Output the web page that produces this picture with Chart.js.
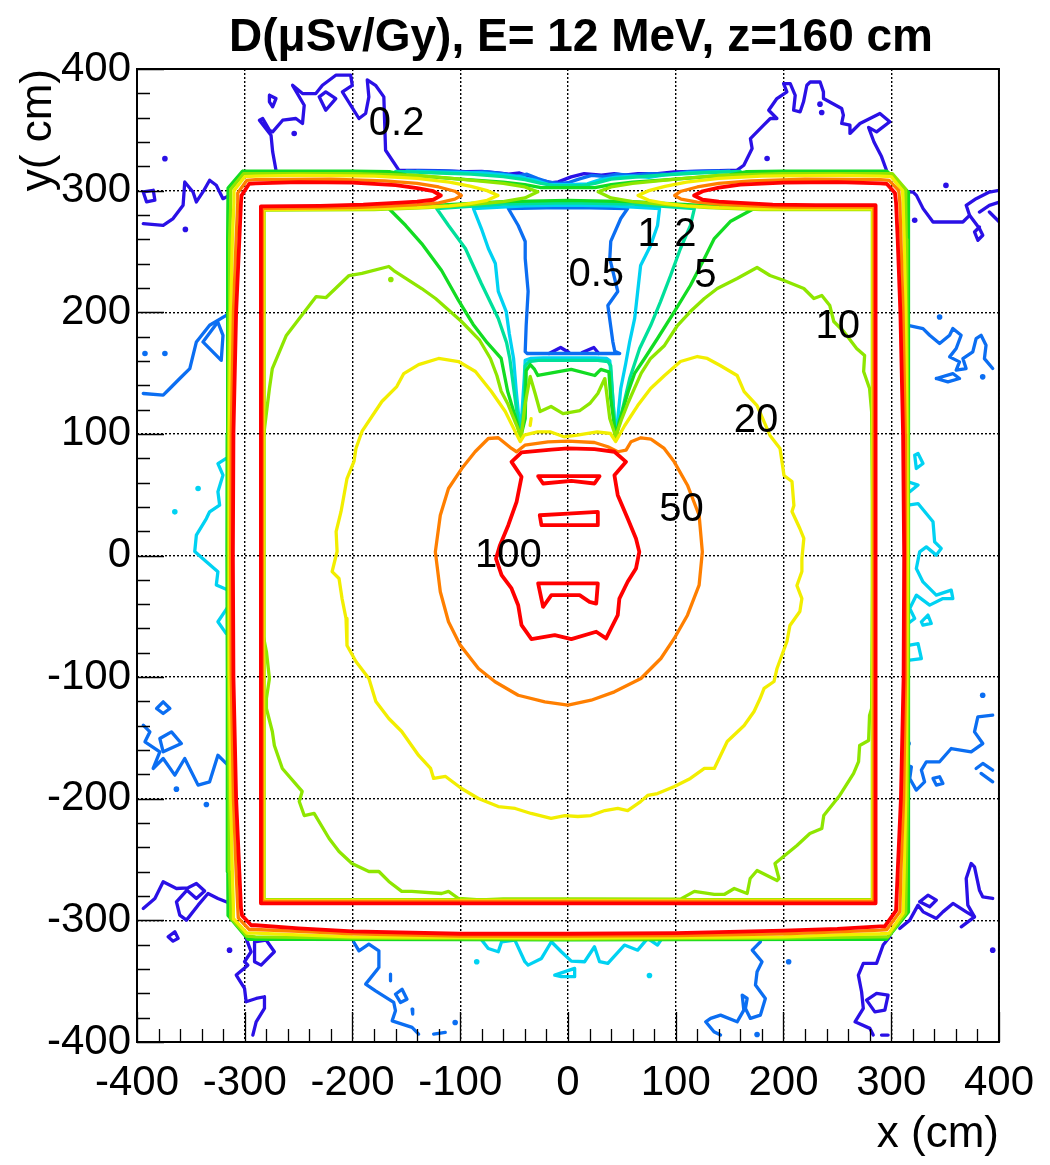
<!DOCTYPE html>
<html>
<head>
<meta charset="utf-8">
<title>D(μSv/Gy), E= 12 MeV, z=160 cm</title>
<script src="https://cdn.jsdelivr.net/npm/chart.js@4.4.1/dist/chart.umd.min.js"></script>
<style>
  html, body { margin: 0; padding: 0; background: #ffffff; }
  canvas { display: block; }
</style>
</head>
<body>
<canvas id="map" width="1050" height="1165"></canvas>
<script>
const FONT = "'Liberation Sans', Arial, Helvetica, sans-serif";

// Axis ticks (cm)
const xTickValues = [-400, -300, -200, -100, 0, 100, 200, 300, 400];
const yTickValues = [-400, -300, -200, -100, 0, 100, 200, 300, 400];
const minorTickValues = [-380, -360, -340, -320, -280, -260, -240, -220, -180, -160, -140, -120,
  -80, -60, -40, -20, 20, 40, 60, 80, 120, 140, 160, 180, 220, 240, 260, 280, 320, 340, 360, 380];

// Contour levels (µSv/Gy) and their colours
const levels = ['0.2', '0.5', '1', '2', '5', '10', '20', '50', '100'];
const levelColors = ['#2a10e6', '#0b6ef2', '#00d2f2', '#00e09a', '#12dc22', '#8ee600', '#f2ee00', '#ff7f00', '#ff0000'];

// ---------- 100 µSv/Gy ----------
const lvl100_wall = [[-118,296],[-125,292.5],[-140,291],[-160,290],[-190,288.5],[-230,287.5],[-285,287],
  [-285,-286],[285.5,-286],[285.5,288],
  [230,288],[190,288.5],[160,290],[140,291],[125,292.5],[117,296],
  [125,299.5],[140,302.5],[160,305],[200,306.5],[250,307],[290,306],[296,305.5],
  [303.5,298],[304.5,290],[306,260],[308.5,200],[311,100],[312,0],[311.5,-100],[309,-200],[306,-260],[304.5,-292],
  [294,-305],[290,-305],[250,-307],[200,-308.5],[100,-310.5],[0,-311],[-100,-311],[-200,-309],[-250,-306.5],[-290,-304],[-294,-304],
  [-302.5,-296],[-303.5,-290],[-305,-260],[-308,-200],[-310.5,-100],[-311,0],[-310.5,100],[-308,200],[-305,260],[-303.5,290],[-303,296],
  [-296,305.5],[-290,306],[-250,307],[-200,306.5],[-160,304.5],[-140,302],[-125,299.5],[-118,296]];
const lvl100_core = [[-52.4,77.0],[-43.1,84.7],[-15.4,87.1],[0,88],[24.6,87.4],[43.1,85.3],[53.9,77.0],[43.1,66.0],
  [46.2,49.6],[55.4,30.4],[63.1,14.0],[66.2,3.0],[63.1,-10.7],[55.4,-21.6],[47.7,-35.4],[46.2,-49.1],[40,-60.0],
  [35.4,-68.2],[26.2,-62.7],[3.1,-68.8],[-12.3,-65.5],[-33.9,-68.8],[-43.1,-57.3],[-46.2,-40.9],[-52.4,-27.1],
  [-61.6,-16.2],[-66.8,-2.5],[-63.1,8.5],[-55.4,24.9],[-47.7,44.1],[-43.1,64.7],[-52.4,77.0]];
const lvl100_barTop = [[-27.7,65.2],[29.3,65.2],[24.6,59.2],[3.1,61.4],[-23.1,59.2],[-27.7,65.2]];
const lvl100_barMid = [[-26.2,33.1],[0,34.5],[27.7,35.9],[27.7,24.9],[-24.6,24.9],[-26.2,33.1]];
const lvl100_barLow = [[-27.7,-23.0],[27.7,-23.0],[26.2,-39.5],[20.0,-38.1],[10.8,-32.6],[-15.4,-32.6],[-23.1,-42.2],[-27.7,-23.0]];

// ---------- 50 µSv/Gy ----------
const lvl50_wall = [[-99,296],[-105,293],[-120,290],[-140,288.5],[-170,287],[-200,286],[-283.5,285.5],
  [-283.5,-284.5],[284,-284.5],[284,286.5],
  [200,286.5],[170,287.5],[140,289],[120,290.5],[105,293],[99,296],
  [105,299.5],[120,303],[140,306],[170,308],[220,309.5],[290,309],[298,308.5],
  [307,300],[308,290],[309,260],[311,200],[313,100],[313.5,0],[313,-100],[311.5,-200],[309,-260],[308,-293],
  [296,-307.5],[290,-308],[250,-309.5],[200,-311],[100,-312.5],[0,-313],[-100,-313],[-200,-311],[-250,-309],[-290,-307.5],[-296,-307.5],
  [-306,-298],[-306.5,-290],[-308,-260],[-310.5,-200],[-312.5,-100],[-313,0],[-312.5,100],[-310.5,200],[-308,260],[-306.5,290],[-306.5,298],
  [-298,308.5],[-290,309],[-220,309.5],[-170,308],[-140,306],[-120,303],[-105,299.5],[-99,296]];
const lvl50_core = [[-73.9,96.2],[-64.7,96.8],[-52.4,88.0],[-47.7,85.3],[-40.0,90.7],[-18.5,93.5],[0,94.0],[24.6,92.9],
  [37.0,89.4],[46.2,85.3],[53.9,86.6],[58.5,93.5],[67.7,96.8],[77.0,95.6],[89.3,88.0],[98.6,77.0],[110.9,57.8],
  [121.7,33.1],[124.7,3.0],[121.7,-24.4],[110.9,-49.1],[98.6,-68.2],[86.2,-84.7],[67.7,-101.1],[43.1,-112.1],
  [21.5,-119.0],[0,-123.1],[-21.5,-120.3],[-46.2,-114.9],[-67.7,-103.8],[-83.1,-92.9],[-100.0,-73.7],[-110.9,-54.5],
  [-118.5,-29.8],[-123.1,3.0],[-118.5,33.1],[-110.9,55.1],[-98.6,71.5],[-86.2,85.3],[-73.9,96.2]];

// ---------- 20 µSv/Gy ----------
const lvl20_wall = [[-65,296],[-75,292],[-90,289.5],[-110,287.5],[-140,286],[-180,285],[-282.5,284.5],
  [-282.5,-283.5],[283,-283.5],[283,285],
  [180,285],[140,286],[110,287.5],[90,289.5],[75,292],[65,296],
  [75,300],[90,303.5],[110,307],[140,310],[180,312],[250,312.5],[290,312],[300,311.5],
  [310.5,300],[311,290],[312,260],[313.5,200],[314.5,100],[315,0],[314.5,-100],[313.5,-200],[312,-260],[311,-294],
  [298,-310.5],[290,-311],[250,-312],[200,-313.5],[100,-314],[0,-314.5],[-100,-314],[-200,-313.5],[-250,-312],[-290,-310.5],[-298,-310.5],
  [-310,-299],[-310.5,-290],[-311.5,-260],[-313,-200],[-314,-100],[-314.5,0],[-314,100],[-313,200],[-311.5,260],[-310,290],[-310,300],
  [-300,311.5],[-290,312],[-250,312.5],[-180,312],[-140,310],[-110,307],[-90,303.5],[-75,300],[-65,296]];
const lvl20_core = [[-44.3,93.7],[-49.0,102.0],[-58.2,118.4],[-71.1,134.8],[-85.9,151.3],[-101.6,159.5],[-120.1,162.0],
  [-138.6,157.0],[-152.4,149.6],[-158.9,138.9],[-172.7,126.6],[-191.2,102.0],[-196.8,88.0],[-198.6,77.3],[-205.1,63.3],
  [-210.6,36.2],[-215.2,19.7],[-214.3,3.3],[-218.9,-13.2],[-212.5,-18.9],[-209.7,-35.4],[-206.0,-51.8],[-205.1,-74.0],
  [-196.8,-87.1],[-184.8,-101.1],[-178.3,-120.0],[-166.3,-134.0],[-154.3,-144.7],[-138.6,-164.4],[-127.5,-175.1],
  [-124.7,-183.3],[-113.6,-181.7],[-98.8,-191.6],[-83.1,-199.8],[-64.7,-206.4],[-49.0,-208.0],[-34.2,-212.1],
  [-15.7,-216.2],[-2.8,-213.8],[9.2,-214.6],[21.2,-213.8],[34.2,-209.7],[46.2,-208.0],[55.4,-209.7],[67.4,-202.3],
  [73.9,-197.3],[83.1,-195.7],[98.8,-189.9],[113.6,-183.3],[126.6,-175.1],[135.8,-175.1],[147.8,-152.9],[163.5,-139.8],
  [172.7,-128.3],[178.3,-117.6],[182.0,-109.3],[191.2,-103.6],[194.0,-92.9],[203.2,-70.7],[206.0,-57.6],[215.2,-46.0],
  [217.1,-35.4],[212.5,-24.7],[217.1,-13.2],[217.1,-2.5],[218.9,14.0],[215.2,22.2],[207.9,36.2],[209.7,41.1],
  [207.9,60.8],[200.5,65.8],[196.8,88.0],[187.5,98.7],[175.5,123.3],[163.5,134.8],[157.0,148.0],[141.3,156.2],
  [129.3,162.0],[120.1,163.6],[104.4,159.5],[89.6,148.0],[76.7,137.3],[64.7,123.3],[52.7,106.9],[44.3,93.7],
  [39.4,100.3],[27.1,101.6],[8.6,98.9],[-3.7,97.6],[-16.0,101.6],[-28.3,101.6],[-40.6,98.9],[-44.3,93.7]];
const lvl20_bit = [[-34.2,112.6],[-35.1,106.9]];

// ---------- 10 µSv/Gy ----------
const lvl10_wall = [[-28,299],[-40,294],[-60,291],[-90,288.5],[-130,286],[-180,284.5],[-282,284],
  [-282,-283],[282.5,-283],[282.5,284.5],
  [180,284.5],[130,286],[90,288.5],[60,291],[40,294],[28,299],
  [40,303],[60,306],[100,309.5],[140,312.5],[200,314],[290,314],[301,314],
  [313.5,301],[313.5,290],[314,260],[314.5,200],[315.5,100],[315.8,0],[315.5,-100],[315,-200],[314,-260],[313.5,-294],
  [297,-313.5],[290,-313.5],[250,-314],[200,-314.5],[100,-315],[0,-315.3],[-100,-315],[-200,-314.5],[-250,-314],[-290,-313.5],[-298,-313],
  [-313,-298],[-313,-290],[-314,-260],[-314.5,-200],[-315,-100],[-315.3,0],[-315,100],[-314.5,200],[-314,260],[-313,290],[-313,301],
  [-301,314],[-290,314],[-200,314],[-140,312.5],[-100,309.5],[-60,306],[-40,303],[-28,299]];
const lvl10_core = [[-43.4,97.8],[-50,112],[-56,125],[-62,135],[-66,148],[-72,162],[-82,177],[-98.8,192.4],
  [-122.9,211.3],[-135.8,219.5],[-161.7,234.3],[-166.3,237.6],[-191.2,231.9],[-203.2,230.2],[-224.5,212.1],
  [-233.7,212.9],[-261.4,180.9],[-274.4,153.7],[-277.1,137.3],[-283.6,90.4],[-283.6,69.1],[-283.6,-62.5],
  [-279.9,-78.9],[-277.1,-101.1],[-279.9,-117.6],[-279.9,-125.8],[-274.4,-144.7],[-272.5,-156.2],[-265.1,-175.1],
  [-246.7,-194.0],[-249.4,-202.3],[-244.8,-213.8],[-235.6,-212.1],[-221.7,-232.7],[-212.5,-243.4],[-200.5,-253.2],
  [-184.8,-259.8],[-175.5,-259.8],[-166.3,-268.0],[-154.3,-276.2],[-145.0,-276.2],[-117.3,-277.9],[-110.9,-276.2],
  [-101.6,-282.0],[-81.3,-283.2],[-60,-282.3],[12,-282.3],[104.4,-282.5],[117.3,-276.2],[135.8,-278.7],[145.0,-278.7],
  [154.3,-273.8],[166.3,-277.9],[169.1,-265.6],[175.5,-259.0],[194.0,-267.2],[195.8,-265.6],[192.1,-253.2],
  [212.5,-238.4],[224.5,-228.6],[235.6,-224.5],[237.4,-213.8],[252.2,-197.3],[265.1,-179.2],[269.7,-169.4],
  [270.7,-156.2],[279.0,-152.1],[279.9,-131.5],[281.8,-125.8],[282.7,-24.7],[282.7,44.4],[281.8,118.4],
  [279.9,137.3],[274.4,151.3],[275.3,164.4],[267.9,170.2],[255.9,184.2],[246.7,192.4],[243.0,205.5],[235.6,213.8],
  [228.2,211.3],[218.9,219.5],[200.5,226.1],[187.5,230.2],[175.5,236.8],[157.0,227.7],[138.6,219.5],[126.6,211.3],
  [113.6,200.6],[101.6,189.1],[89.6,172.7],[76.7,162.0],[68,150],[62,138],[56,126],[50,112.6],[44.3,97.8],
  [38.8,112.6],[34.2,145.5],[27.7,133.2],[20.3,125.0],[11.1,119.2],[-4.6,116.7],[-15.7,122.5],[-25.9,118.4],
  [-30.5,133.2],[-35.1,147.2],[-39.7,125.0],[-43.4,97.8]];
const lvl10_dots = [[-164.4,226.9]];

// ---------- 5 µSv/Gy ----------
const lvl5_outer = [[-302,316],[-200,316],[-165,315.5],[-150,313],[-100,309.5],[-60,307],[-40,305],[-25,302.5],
  [25,302.5],[40,305],[60,307],[100,309.5],[150,313],[165,315.5],[200,316],[296,316],
  [315.7,299],[315.7,260],[316,200],[316.3,100],[316.5,0],[316.3,-100],[316,-200],[315.7,-260],[315.7,-293],
  [295.6,-315.5],[250,-315.5],[100,-315.8],[0,-316],[-100,-315.8],[-250,-315.5],[-297,-315.5],
  [-315.5,-296],[-315.7,-260],[-316,-200],[-316.3,-100],[-316.5,0],[-316.3,100],[-316,200],[-315.7,260],[-315.5,302],[-302,316]];
const lvl5_door = [[-166.3,285.3],[-150.6,271.3],[-135.8,256.5],[-117.3,234.3],[-101.6,209.7],[-88,190],[-75,175],
  [-62,162],[-56,135],[-51,120],[-47.5,110],[-44.3,96.2],
  [-39.7,112.6],[-38.8,152],[-35,157],[-31,153],[-28,148],[3,153],[24.9,148],[30.5,153],[38,151],[39.7,129.1],[43.4,104.4],
  [44.3,96.2],[47.5,110],[51,120],[56,135],[62,150],[71.1,162.0],[83.1,178.4],[98.8,200.6],[113.6,222.0],
  [126.6,244.2],[135.8,260.6],[150.6,274.6],[172.7,285.3],
  [120,288],[60,291],[0,292],[-60,291],[-120,288],[-166.3,285.3]];

// ---------- 2 µSv/Gy ----------
const lvl2_top = [[-160,315.8],[-120,314.5],[-90,313.5],[-60,311.5],[-40,309],[-25,306],[-12,304],[12,304],
  [25,306],[40,309.5],[60,311],[90,313],[120,314.5],[160,315.8]];
const lvl2_door = [[-121.9,285.3],[-110.9,271.3],[-95.2,252.4],[-80.4,223.6],[-64.7,194.9],[-57,175],[-54,162],
  [-50,135],[-46.5,112],[-44.3,96.2],
  [-40.6,125],[-39.7,156],[-36,159.5],[-27.7,160.5],[27.7,160.5],[37,159.5],[39.7,156],[41.6,129.1],
  [44.3,96.2],[50.8,120.9],[57.3,145.5],[66.5,170.2],[76.7,189.1],[85.9,208.8],[95.2,230.2],[104.4,252.4],
  [113.6,271.3],[117.3,285.3],
  [60,289],[0,290],[-60,289],[-121.9,285.3]];

// ---------- 1 µSv/Gy ----------
const lvl1_top = [[-150,316],[-110,315],[-80,314.5],[-60,313],[-45,311.5],[-30,308.5],[-18,305],[0,305],
  [18,305.5],[30,309],[45,311],[60,312],[75,311],[90,313],[110,314.5],[150,316]];
const lvl1_door = [[-87.8,285.3],[-80.4,268.8],[-73.9,252.4],[-67.4,240.1],[-64.7,217.1],[-57.3,200.6],
  [-54.5,182.5],[-50.5,162.0],[-48,135],[-45.5,112],[-44.3,96.2],
  [-40.6,145.5],[-39.7,160.5],[-35,162],[-23,162.5],[25,162.5],[36,162],[38.8,160],[41.6,129.1],
  [44.3,96.2],[46.2,112.6],[49.0,137.3],[53.6,157.9],[57.3,175.9],[61.9,194.9],[64.7,217.1],[67.4,238.4],
  [76.7,254.9],[83.1,271.3],[85.0,285.3],
  [40,287.5],[0,288],[-40,287.5],[-87.8,285.3]];
const lvl1_west = [[-317.2,79.8],[-324.9,75.6],[-320.2,66.1],[-324.9,52.4],[-323.3,41.4],[-332.6,35.9],[-335.6,30.4],
  [-344.9,16.8],[-346.4,3.3],[-335.6,-5.2],[-324.9,-13.3],[-326.4,-24.3],[-315.6,-28.4]];
const lvl1_west2 = [[-315.6,-42.2],[-324.9,-54.5],[-317.2,-64.2]];
const lvl1_east = [[315.6,41.4],[324.9,42.7],[338.8,27.7],[340.3,11.2],[346.4,5.8],[341.8,0.3],[332.6,7.1],
  [326.4,3.0],[323.3,-10.7],[329.5,-21.7],[341.8,-32.6],[355.7,-28.5],[357.2,-35.4],[348.0,-35.4],[335.7,-40.8],
  [323.3,-32.6],[317.2,-43.6],[321.8,-51.8],[315.6,-55.9]];
const lvl1_eastLoopA = [[321.8,82.5],[324.9,83.9],[329.5,75.6],[323.3,71.5],[321.8,82.5]];
const lvl1_eastHook = [[315.6,60.6],[324.9,57.9],[317.2,52.4],[315.6,52.4]];
const lvl1_eastLoopB = [[328.0,-54.5],[334.1,-49.0],[337.2,-55.9],[329.5,-57.3],[328.0,-54.5]];
const lvl1_eastSmall = [[317.2,-73.7],[324.9,-72.4],[328.0,-84.7],[317.2,-86.0]];
const lvl1_south = [[-80.1,-316.2],[-74.0,-323.1],[-64.7,-325.8],[-61.6,-317.6],[-49.3,-316.2],[-40.0,-334.0],
  [-37.0,-336.8],[-24.6,-331.3],[-15.4,-317.6],[-6.2,-325.8],[3.1,-333.5],[15.4,-334.0],[24.6,-321.7],
  [29.3,-334.0],[37.0,-335.4],[52.4,-320.3],[64.7,-324.5],[73.9,-314.8],[83.1,-320.3],[86.2,-316.2]];
const lvl1_southLoop = [[-12.3,-345.0],[6.2,-339.5],[6.2,-346.3],[-6.2,-346.3],[-12.3,-345.0]];
const lvl1_dots = [[-343.3,55.1],[-364.9,35.9],[-84.7,-334.0],[75.6,-345.3]];

// ---------- 0.5 µSv/Gy ----------
const lvl05_top = [[-140,316.3],[-110,316],[-90,315],[-75,315.5],[-60,314],[-48,312],[-38,313.5],[-28,310],
  [-18,307],[-9,306],[0,306.5],[10,309.5],[22,312.5],[35,311.5],[45,313.5],[60,312.5],[75,314],[95,313.5],
  [110,315.5],[140,316.3]];
const lvl05_box = [[-55.4,285.3],[-46.2,271.3],[-39.7,258.2],[-39.7,244.2],[-37.0,217.1],[-38.8,189.1],[-39.7,167.7],
  [-38,166.1],[48,166.1],[43.4,168],[41.6,175.9],[37.0,205.5],[46.2,217.1],[38.8,244.2],[39.7,258.2],[49.0,277.1],
  [55.4,285.3],[20,285.8],[-20,285.8],[-55.4,285.3]];
const lvl05_westUpper = [[-394.2,133.2],[-375.7,131.8],[-369.5,137.3],[-360.3,145.5],[-351.0,153.7],[-344.9,175.6],
  [-332.6,189.3],[-317.2,197.5]];
const lvl05_westLoop = [[-338.8,175.6],[-325.0,192.0],[-320.2,181.0],[-321.8,160.5],[-332.6,170.1],[-338.8,175.6]];
const lvl05_westLower = [[-394.2,-139.5],[-388.0,-145.0],[-392.6,-153.2],[-378.8,-161.4],[-385.0,-175.1],[-375.7,-166.9],
  [-364.9,-180.6],[-355.7,-166.9],[-343.3,-188.8],[-332.6,-186.1],[-324.9,-164.2],[-315.6,-172.4]];
const lvl05_westLoopA = [[-381.8,-125.8],[-375.7,-120.3],[-369.5,-125.8],[-375.7,-129.9],[-381.8,-125.8]];
const lvl05_westLoopB = [[-378.8,-150.5],[-368.0,-145.0],[-358.8,-154.6],[-375.7,-161.4],[-378.8,-150.5]];
const lvl05_southWest = [[-198.6,-318.2],[-194.0,-325.0],[-184.8,-319.5],[-175.5,-325.0],[-175.5,-338.7],[-187.8,-352.4],
  [-178.6,-357.9],[-161.7,-367.5],[-160.1,-374.3],[-163.2,-382.6],[-144.7,-388.0],[-138.6,-393.5]];
const lvl05_southWestLoop = [[-160.1,-360.7],[-154.0,-356.6],[-149.4,-364.8],[-155.5,-367.5],[-160.1,-360.7]];
const lvl05_southWestBitA = [[-164.7,-344.2],[-164.7,-349.7]];
const lvl05_southWestBitB = [[-144.7,-372.9],[-144.1,-377.0]];
const lvl05_southWestBitC = [[-124.7,-393.5],[-113.9,-392.1]];
const lvl05_southEast = [[178.6,-317.6],[171.0,-324.5],[180.1,-334.0],[175.5,-342.3],[174.0,-353.2],[183.2,-364.2],
  [178.6,-377.9],[169.3,-380.6],[164.7,-372.4],[166.3,-364.2],[161.7,-361.5],[163.2,-373.8],[157.0,-383.4],
  [141.6,-377.9],[132.4,-380.6],[127.8,-383.4],[135.5,-391.6],[141.6,-394.3]];
const lvl05_eastUpper = [[315.6,189.3],[329.5,186.6],[335.7,181.1],[344.9,174.3],[354.2,181.1],[357.2,186.6],
  [364.9,181.1],[360.3,170.2],[354.2,163.3],[363.4,159.2],[360.3,152.4],[369.5,153.7],[366.5,161.9],[375.7,167.4],
  [378.8,178.3],[383.4,181.1],[388.0,172.9],[386.5,161.9],[394.2,153.7]];
const lvl05_eastUpperLoop = [[341.8,145.5],[357.2,149.6],[363.4,145.5],[352.6,142.8],[341.8,145.5]];
const lvl05_eastLower = [[394.2,-131.3],[380.4,-132.7],[377.3,-145.0],[385.0,-154.6],[374.2,-161.4],[355.7,-158.7],
  [344.9,-169.6],[332.6,-169.6],[328.0,-176.5],[331.0,-186.1],[323.3,-192.9],[317.2,-183.3],[318.7,-173.8],[314.1,-172.4]];
const lvl05_eastLowerLoop = [[338.8,-183.3],[344.9,-181.9],[348.0,-187.4],[341.9,-188.8],[338.8,-183.3]];
const lvl05_eastLowerBitA = [[378.8,-175.1],[385.0,-171.0],[394.2,-176.5]];
const lvl05_eastLowerBitB = [[383.4,-179.2],[394.2,-186.1]];
const lvl05_dots = [[-392.6,166.1],[-374.1,166.1],[344.9,196.1],[384.9,146.9],[315.6,-154.6],[384.9,-114.9],
  [175.5,-393.8],[204.8,-334.0],[-104.7,-384.0],[-363.4,-192.1],[-335.6,-204.7]];

// ---------- 0.2 µSv/Gy ----------
const lvl02_north = [[-271.0,316.8],[-274.1,331.9],[-275.6,345.6],[-286.4,357.9],[-283.3,359.3],[-277.1,349.7],
  [-274.1,348.3],[-264.8,357.9],[-252.5,359.3],[-246.4,355.2],[-244.8,370.2],[-255.6,386.6],[-246.4,379.8],
  [-234.0,379.8],[-227.9,386.6],[-215.5,394.9],[-201.7,394.9],[-200.2,386.6],[-209.4,381.2],[-194.0,359.3],
  [-187.8,363.4],[-184.8,377.1],[-186.3,391.1],[-178.6,386.6],[-170.9,377.1],[-169.3,333.2],[-157.0,316.8],
  [-120,316.5],[-95,315.5],[-80,315.8],[-65,314.5],[-55,313.5],[-45,314.5],[-35,311.5],[-25,308.5],[-15,306.5],
  [-9,307.2],[3,311.3],[15,314],[31,312.7],[43,314],[52,312.7],[65,314],[83,314],[98.5,315.4],[157.0,316.8],
  [163.2,320.9],[170.9,334.6],[169.3,342.8],[181.6,353.8],[187.8,359.3],[193.9,359.3],[186.3,366.1],[193.9,375.7],
  [203.2,381.2],[200.1,388.0],[206.3,388.0],[210.9,378.4],[209.4,366.1],[215.5,364.8],[218.6,373.0],[221.7,386.6],
  [224.8,389.3],[234.0,389.3],[237.1,381.2],[237.1,375.7],[254.0,367.5],[255.6,362.1],[254.0,355.2],[261.7,353.8],
  [261.7,347.0],[271.0,355.2],[289.5,363.4],[298.7,356.6],[286.4,348.3],[279,352],[284,340],[291,328],[295.6,316.8]];
const lvl02_northDiamond = [[-230.9,377.1],[-224.8,381.2],[-215.5,375.7],[-224.8,366.1],[-230.9,377.1]];
const lvl02_northLoop = [[-277.1,378.4],[-271.0,375.7],[-274.1,368.9],[-277.1,373.0],[-277.1,378.4]];
const lvl02_nwLoop = [[-394.2,298.9],[-384.9,300.3],[-383.4,292.1],[-391.1,290.7],[-394.2,298.9]];
const lvl02_nwLine = [[-394.2,272.9],[-375.7,271.5],[-366.5,277.0],[-357.2,288.0],[-355.7,307.1],[-348.0,298.9],
  [-344.9,290.7],[-338.8,298.9],[-332.6,308.5],[-326.4,304.4],[-323.3,298.9],[-320.2,293.4],[-314.1,296.1]];
const lvl02_neLine = [[315.6,299],[320.3,298.8],[323.4,296.1],[329.6,285.2],[338.8,274.2],[366.5,274.2],[372.7,279.7],
  [369.6,287.9],[378.8,293.4],[391.1,298.8],[400.4,300.2]];
const lvl02_neBranch = [[372.7,279.7],[381.9,268.8],[385.0,263.3],[380.4,259.2],[377.3,266.0],[381.9,270.1]];
const lvl02_neBitA = [[381.9,282.4],[391.1,287.9],[400.4,290.6]];
const lvl02_neBitB = [[391.1,282.4],[400.4,274.2]];
const lvl02_swA = [[-394.2,-290.2],[-383.4,-282.0],[-375.7,-268.3],[-363.4,-273.8],[-352.6,-273.2],[-344.9,-269.7],
  [-337.2,-275.9],[-344.9,-282.0],[-353.6,-275.2]];
const lvl02_swB = [[-353.6,-275.2],[-363.4,-284.7],[-360.3,-295.7],[-354.1,-299.8],[-343.3,-287.5],[-334.1,-277.9],
  [-324.9,-282.0],[-315.6,-285.3]];
const lvl02_swLoop = [[-371.1,-313.5],[-364.9,-309.4],[-361.8,-314.8],[-366.5,-317.1],[-371.1,-313.5]];
const lvl02_swDown = [[-298.7,-314.8],[-294.1,-325.8],[-300.2,-334.0],[-297.1,-336.8],[-307.9,-345.0],[-300.2,-355.9],
  [-298.7,-366.9],[-289.4,-364.2],[-281.7,-362.8],[-281.7,-372.4],[-289.4,-383.4],[-292.5,-394.3]];
const lvl02_swDownLoop = [[-290.9,-317.6],[-280.2,-316.2],[-272.5,-325.8],[-284.8,-336.8],[-290.9,-334.0],[-290.9,-317.6]];
const lvl02_seDown = [[298.7,-313.5],[292.5,-320.3],[286.4,-335.4],[274.1,-335.4],[269.5,-345.0],[272.5,-358.7],
  [274.1,-372.4],[266.4,-383.4],[280.2,-388.8],[283.3,-394.3]];
const lvl02_seDownLoop = [[277.1,-365.6],[286.4,-360.1],[297.1,-361.5],[294.1,-373.8],[284.8,-375.2],[277.1,-365.6]];
const lvl02_seDash = [[291.0,-394.3],[297.1,-394.3]];
const lvl02_seRight = [[307.9,-306.7],[317.2,-299.8],[324.9,-287.5],[329.6,-293.0],[341.9,-298.4],[348.0,-293.0],
  [357.3,-286.1],[369.6,-293.0],[377.3,-297.1],[365.0,-305.3]];
const lvl02_seRight2 = [[377.3,-297.1],[371.1,-287.5],[369.6,-265.6],[374.2,-253.2],[377.3,-256.0],[381.9,-275.2],
  [385.0,-280.7],[394.2,-282.0]];
const lvl02_seLoop = [[326.4,-284.7],[334.1,-279.3],[341.9,-283.4],[335.7,-288.8],[326.4,-284.7]];
const lvl02_boxBumpA = [[-17.6,166.1],[-6.8,171.0],[0.9,166.9]];
const lvl02_boxBumpB = [[13.2,166.9],[24.0,171.0],[28.6,166.1]];
const lvl02_dots = [[-374.1,326.3],[-254.1,347.0],[-355.1,268.1],[350.8,304.3],[321.8,275.6],[184.8,326.4],
  [-314.1,-324.5],[394.2,-324.5],[233.9,371.1],[235.5,364.2]];

// Level labels placed on the contours
const labelTexts = ['0.2', '0.5', '1', '2', '5', '10', '20', '50', '100'];
const labelXs = [-159, 26.3, 74.8, 109, 127.5, 250.3, 174.6, 105.3, -55.4];
const labelYs = [355, 231, 263.9, 263.9, 230.2, 188.3, 111, 37.8, 0];

// Polylines grouped by level
const contourLines = [
  ['100', lvl100_wall], ['100', lvl100_core], ['100', lvl100_barTop], ['100', lvl100_barMid], ['100', lvl100_barLow],
  ['50', lvl50_wall], ['50', lvl50_core],
  ['20', lvl20_wall], ['20', lvl20_core], ['20', lvl20_bit],
  ['10', lvl10_wall], ['10', lvl10_core],
  ['5', lvl5_outer], ['5', lvl5_door],
  ['2', lvl2_top], ['2', lvl2_door],
  ['1', lvl1_top], ['1', lvl1_door], ['1', lvl1_west], ['1', lvl1_west2], ['1', lvl1_east], ['1', lvl1_eastLoopA],
  ['1', lvl1_eastHook], ['1', lvl1_eastLoopB], ['1', lvl1_eastSmall], ['1', lvl1_south], ['1', lvl1_southLoop],
  ['0.5', lvl05_top], ['0.5', lvl05_box], ['0.5', lvl05_westUpper], ['0.5', lvl05_westLoop], ['0.5', lvl05_westLower],
  ['0.5', lvl05_westLoopA], ['0.5', lvl05_westLoopB], ['0.5', lvl05_southWest], ['0.5', lvl05_southWestLoop],
  ['0.5', lvl05_southWestBitA], ['0.5', lvl05_southWestBitB], ['0.5', lvl05_southWestBitC], ['0.5', lvl05_southEast],
  ['0.5', lvl05_eastUpper], ['0.5', lvl05_eastUpperLoop], ['0.5', lvl05_eastLower], ['0.5', lvl05_eastLowerLoop],
  ['0.5', lvl05_eastLowerBitA], ['0.5', lvl05_eastLowerBitB],
  ['0.2', lvl02_north], ['0.2', lvl02_northDiamond], ['0.2', lvl02_northLoop], ['0.2', lvl02_nwLoop], ['0.2', lvl02_nwLine],
  ['0.2', lvl02_neLine], ['0.2', lvl02_neBranch], ['0.2', lvl02_neBitA], ['0.2', lvl02_neBitB], ['0.2', lvl02_swA],
  ['0.2', lvl02_swB], ['0.2', lvl02_swLoop], ['0.2', lvl02_swDown], ['0.2', lvl02_swDownLoop], ['0.2', lvl02_seDown],
  ['0.2', lvl02_seDownLoop], ['0.2', lvl02_seDash], ['0.2', lvl02_seRight], ['0.2', lvl02_seRight2], ['0.2', lvl02_seLoop],
  ['0.2', lvl02_boxBumpA], ['0.2', lvl02_boxBumpB]
];
const contourDots = [['0.2', lvl02_dots], ['0.5', lvl05_dots], ['1', lvl1_dots], ['10', lvl10_dots]];

const colorOf = lvl => levelColors[levels.indexOf(lvl)];
// higher levels are painted on top (lower "order" value draws last)
const orderOf = lvl => levels.length - levels.indexOf(lvl);
const toPoints = pts => pts.map(p => ({ x: p[0], y: p[1] }));

const datasets = [];
contourLines.forEach(([lvl, pts]) => {
  datasets.push({
    data: toPoints(pts),
    showLine: true,
    borderColor: colorOf(lvl),
    borderWidth: lvl === '100' ? 3.8 : 3.3,
    borderJoinStyle: 'round',
    borderCapStyle: 'round',
    pointRadius: 0,
    pointHoverRadius: 0,
    fill: false,
    tension: 0,
    order: orderOf(lvl)
  });
});
contourDots.forEach(([lvl, pts]) => {
  datasets.push({
    data: toPoints(pts),
    showLine: false,
    pointRadius: 2.8,
    pointBorderWidth: 0,
    pointBackgroundColor: colorOf(lvl),
    order: orderOf(lvl)
  });
});

// Frame, inward tick marks, plot title and contour labels
const decor = {
  id: 'decor',
  beforeDraw(chart) {
    const c = chart.ctx;
    c.save();
    c.fillStyle = '#ffffff';
    c.fillRect(0, 0, chart.width, chart.height);
    c.restore();
  },
  afterDatasetsDraw(chart) {
    const c = chart.ctx, sx = chart.scales.x, sy = chart.scales.y;
    c.save();
    c.font = '40px ' + FONT;
    c.fillStyle = '#000';
    c.textAlign = 'center';
    c.textBaseline = 'middle';
    labelTexts.forEach((t, i) => c.fillText(t, sx.getPixelForValue(labelXs[i]), sy.getPixelForValue(labelYs[i])));
    c.restore();
  },
  afterDraw(chart) {
    const c = chart.ctx, a = chart.chartArea, sx = chart.scales.x, sy = chart.scales.y;
    c.save();
    c.strokeStyle = '#000';
    c.lineWidth = 1.3;
    c.beginPath();
    xTickValues.forEach(v => { const p = Math.round(sx.getPixelForValue(v)) + 0.5; c.moveTo(p, a.bottom); c.lineTo(p, a.bottom - 30); });
    minorTickValues.forEach(v => { const p = Math.round(sx.getPixelForValue(v)) + 0.5; c.moveTo(p, a.bottom); c.lineTo(p, a.bottom - 13); });
    yTickValues.forEach(v => { const p = Math.round(sy.getPixelForValue(v)) + 0.5; c.moveTo(a.left, p); c.lineTo(a.left + 27, p); });
    minorTickValues.forEach(v => { const p = Math.round(sy.getPixelForValue(v)) + 0.5; c.moveTo(a.left, p); c.lineTo(a.left + 13, p); });
    c.stroke();
    c.lineWidth = 2;
    c.strokeRect(a.left, a.top, a.right - a.left, a.bottom - a.top);
    c.fillStyle = '#000';
    c.font = 'bold 46px ' + FONT;
    c.textAlign = 'center';
    c.textBaseline = 'alphabetic';
    c.fillText('D(\u03bcSv/Gy), E= 12 MeV, z=160 cm', 581, 51);
    c.restore();
  }
};

new Chart(document.getElementById('map'), {
  type: 'scatter',
  data: { datasets },
  options: {
    responsive: false,
    animation: false,
    devicePixelRatio: 1,
    events: [],
    layout: { padding: { top: 69, right: 47, bottom: 0, left: 0 } },
    plugins: { legend: { display: false }, tooltip: { enabled: false }, title: { display: false } },
    scales: {
      x: {
        type: 'linear', position: 'bottom', min: -400, max: 400,
        afterBuildTicks: s => { s.ticks = xTickValues.map(v => ({ value: v })); },
        afterFit: s => { s.height = 123; },
        ticks: { color: '#000', font: { family: FONT, size: 42 }, padding: 16, maxRotation: 0, autoSkip: false,
                 callback: v => String(v) },
        grid: { color: '#000', lineWidth: 1.4, drawTicks: false },
        border: { display: false, dash: [2, 2] },
        title: { display: true, text: 'x (cm)', align: 'end', color: '#000',
                 font: { family: FONT, size: 44 }, padding: { top: 0, bottom: 4 } }
      },
      y: {
        type: 'linear', position: 'left', min: -400, max: 400,
        afterBuildTicks: s => { s.ticks = yTickValues.map(v => ({ value: v })); },
        afterFit: s => { s.width = 137; },
        ticks: { color: '#000', font: { family: FONT, size: 42 }, padding: 6, autoSkip: false,
                 callback: v => String(v) },
        grid: { color: '#000', lineWidth: 1.4, drawTicks: false },
        border: { display: false, dash: [2, 2] },
        title: { display: true, text: 'y( cm)', align: 'end', color: '#000',
                 font: { family: FONT, size: 44 }, padding: { top: 12, bottom: 0 } }
      }
    }
  },
  plugins: [decor]
});
</script>
</body>
</html>
